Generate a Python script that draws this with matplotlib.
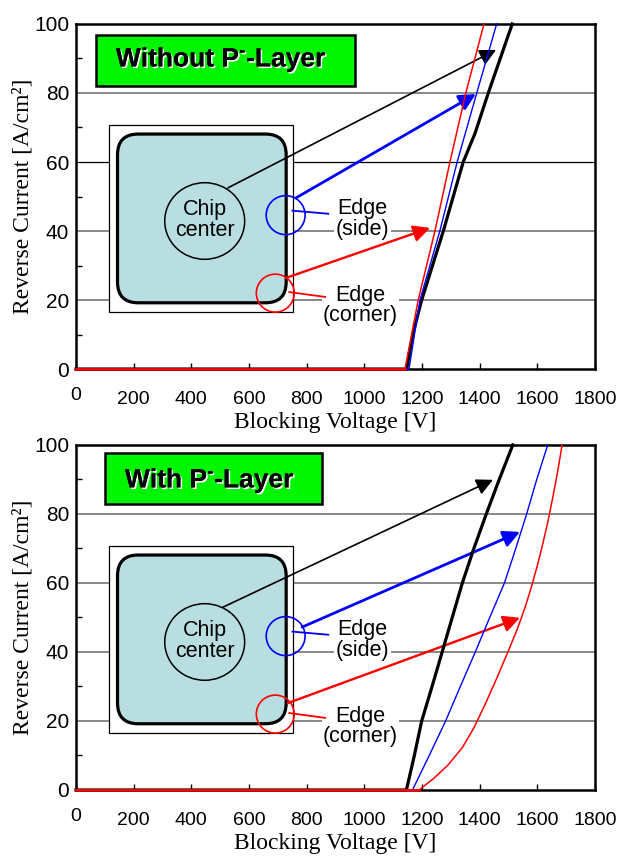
import matplotlib
matplotlib.use("Agg")
import matplotlib.pyplot as plt
from matplotlib.patches import Rectangle, FancyBboxPatch, Ellipse
from matplotlib.transforms import ScaledTranslation
import matplotlib.patheffects as pe

plt.rcParams.update({
    'font.family': ['Liberation Sans', 'DejaVu Sans'],
    'axes.linewidth': 1.8,
    'mathtext.fontset': 'custom',
    'mathtext.rm': 'Liberation Sans:bold',
    'mathtext.bf': 'Liberation Sans:bold',
})
SERIF = ['Liberation Serif', 'DejaVu Serif']

# --- reverse I-V curves, (voltage [V], current density [A/cm2]) ---
# without P- layer
wo_center_v = [0, 1147, 1170, 1199, 1274, 1343, 1384, 1430, 1513]
wo_center_i = [0, 0, 10.6, 20, 40, 60, 68.3, 80, 100]
wo_side_v = [0, 1155, 1193, 1262, 1322, 1390, 1459]
wo_side_i = [0, 0, 20, 40, 60, 80, 100]
wo_corner_v = [0, 1141, 1187, 1245, 1297, 1352, 1415]
wo_corner_i = [0, 0, 20, 40, 60, 80, 100]

# with P- layer
w_center_v = [0, 1146, 1173, 1199, 1235, 1270, 1305, 1340, 1380, 1423, 1468, 1515]
w_center_i = [0, 0, 9.8, 20, 30, 40, 50, 60, 70, 80, 90, 100]
w_side_v = [0, 1167, 1224, 1282, 1333, 1385, 1431, 1486, 1523, 1563, 1598, 1636]
w_side_i = [0, 0, 9.8, 20, 30, 40, 49.2, 60, 69.4, 80, 90, 100]
w_corner_v = [0, 1190, 1240, 1290, 1340, 1380, 1420, 1460, 1498, 1530, 1558, 1580,
              1600, 1618, 1636, 1653, 1670, 1686]
w_corner_i = [0, 0, 3.3, 7.2, 12.3, 18, 25, 32.5, 40, 46.5, 53, 59,
              65, 71, 77.5, 84.5, 92, 100]

# arrow start / end points in data units (center, side, corner)
wo_arrows = [((527, 52.5), (1457, 92.5)), ((763, 49.6), (1387, 79.7)), ((728, 26.4), (1228, 40.9))]
w_arrows = [((510, 53.0), (1446, 89.9)), ((784, 47.2), (1540, 74.8)), ((735, 25.2), (1540, 49.9))]

x_ticks = list(range(0, 2000, 200))
y_ticks = list(range(0, 120, 20))
y_minor = [10, 30, 50, 70, 90]
grid_levels = [20, 40, 60, 80]

CHIP_BLUE = '#B9DEE1'
LABEL_GREEN = '#00F500'


def draw_panel(ax, title, title_box, title_x, curves, arrows, dark_grid=None):
    ax.set_xlim(0, 1800)
    ax.set_ylim(0, 100)
    ax.set_xticks(x_ticks)
    ax.set_yticks(y_ticks)
    ax.set_yticks(y_minor, minor=True)
    ax.tick_params(axis='x', direction='in', length=4, width=1, labelsize=14, pad=16)
    ax.tick_params(axis='y', which='major', length=0, labelsize=15, pad=5)
    ax.tick_params(axis='y', which='minor', direction='in', length=4, width=1)
    # the "0" under the origin sits a little higher
    t0 = ax.xaxis.get_major_ticks()[0].label1
    t0.set_transform(t0.get_transform() + ScaledTranslation(0, 3 / 72, ax.figure.dpi_scale_trans))

    for g in grid_levels:
        if g == dark_grid:
            ax.axhline(g, color='black', lw=0.9, zorder=1)
        else:
            ax.axhline(g, color='#7F7F7F', lw=1.3, zorder=1)

    ax.set_xlabel('Blocking Voltage [V]', fontsize=17, family=SERIF)
    ax.set_ylabel('Reverse Current [A/cm\u00b2]', fontsize=17, family=SERIF)
    ax.xaxis.set_label_coords(0.5, -0.125)
    ax.yaxis.set_label_coords(-0.081, 0.5)

    # title label
    ax.add_patch(Rectangle(title_box[0], title_box[1], title_box[2], transform=ax.transAxes,
                           facecolor=LABEL_GREEN, edgecolor='black', lw=1.8, zorder=3))
    ax.text(title_x, 0.897, title, transform=ax.transAxes, fontsize=19, fontweight='bold',
            ha='center', va='center', zorder=4,
            path_effects=[pe.withSimplePatchShadow(offset=(1.2, -1.2), shadow_rgbFace='white', alpha=1.0),
                          pe.Normal()])

    # chip sketch
    ax.add_patch(Rectangle((0.064, 0.166), 0.355, 0.541, transform=ax.transAxes,
                           facecolor='white', edgecolor='black', lw=0.9, zorder=2))
    ax.add_patch(FancyBboxPatch((0.080, 0.192), 0.325, 0.489, transform=ax.transAxes,
                                boxstyle='round,pad=0,rounding_size=0.04', mutation_aspect=519 / 345,
                                facecolor=CHIP_BLUE, edgecolor='black', lw=2.3, zorder=3))
    ax.add_patch(Ellipse((0.248, 0.429), 0.154, 0.222, transform=ax.transAxes,
                         facecolor='none', edgecolor='black', lw=1.1, zorder=4))
    ax.text(0.248, 0.432, 'Chip\ncenter', transform=ax.transAxes, fontsize=15.5, ha='center',
            va='center', linespacing=0.95, zorder=5)
    ax.add_patch(Ellipse((0.404, 0.446), 0.075, 0.113, transform=ax.transAxes,
                         facecolor='none', edgecolor='blue', lw=1.2, zorder=6))
    ax.add_patch(Ellipse((0.384, 0.220), 0.073, 0.110, transform=ax.transAxes,
                         facecolor='none', edgecolor='red', lw=1.2, zorder=6))
    ax.plot([0.417, 0.486], [0.459, 0.450], color='blue', lw=1.3, transform=ax.transAxes, zorder=6)
    ax.plot([0.411, 0.480], [0.223, 0.209], color='red', lw=1.3, transform=ax.transAxes, zorder=6)
    ax.text(0.552, 0.435, 'Edge\n(side)', transform=ax.transAxes, fontsize=15.5, ha='center',
            va='center', linespacing=0.95, zorder=5,
            bbox=dict(facecolor='white', edgecolor='none', pad=1))
    ax.text(0.548, 0.183, 'Edge\n(corner)', transform=ax.transAxes, fontsize=15.5, ha='center',
            va='center', linespacing=0.95, zorder=5,
            bbox=dict(facecolor='white', edgecolor='none', pad=1))

    arrow_style = [('black', 1.2), ('blue', 2.0), ('red', 1.7)]
    for (start, end), (col, lw) in zip(arrows, arrow_style):
        ax.annotate('', xy=end, xytext=start,
                    arrowprops=dict(arrowstyle='-|>', color=col, lw=lw, mutation_scale=25,
                                    shrinkA=0, shrinkB=0), zorder=7)

    styles = [('black', 2.3), ('blue', 1.0), ('red', 1.1)]
    for (v, i), (col, lw) in zip(curves, styles):
        ax.plot(v, i, color=col, lw=lw, zorder=8, clip_on=False)
    # the red trace also runs along the zero line
    ax.plot(curves[2][0][:2], curves[2][1][:2], color='red', lw=1.8, zorder=9, clip_on=False)


fig = plt.figure(figsize=(6.28, 8.63), dpi=100)
ax_top = fig.add_axes([0.121, 0.5724, 0.8264, 0.3998])
ax_bot = fig.add_axes([0.121, 0.0846, 0.8264, 0.3998])

draw_panel(ax_top, r'Without P$^{\text{-}}$-Layer', ((0.0385, 0.820), 0.499, 0.148), 0.280,
           [(wo_center_v, wo_center_i), (wo_side_v, wo_side_i), (wo_corner_v, wo_corner_i)],
           wo_arrows, dark_grid=60)

draw_panel(ax_bot, r'With P$^{\text{-}}$-Layer', ((0.056, 0.829), 0.418, 0.148), 0.258,
           [(w_center_v, w_center_i), (w_side_v, w_side_i), (w_corner_v, w_corner_i)],
           w_arrows)

fig.savefig('out.png', dpi=100)
